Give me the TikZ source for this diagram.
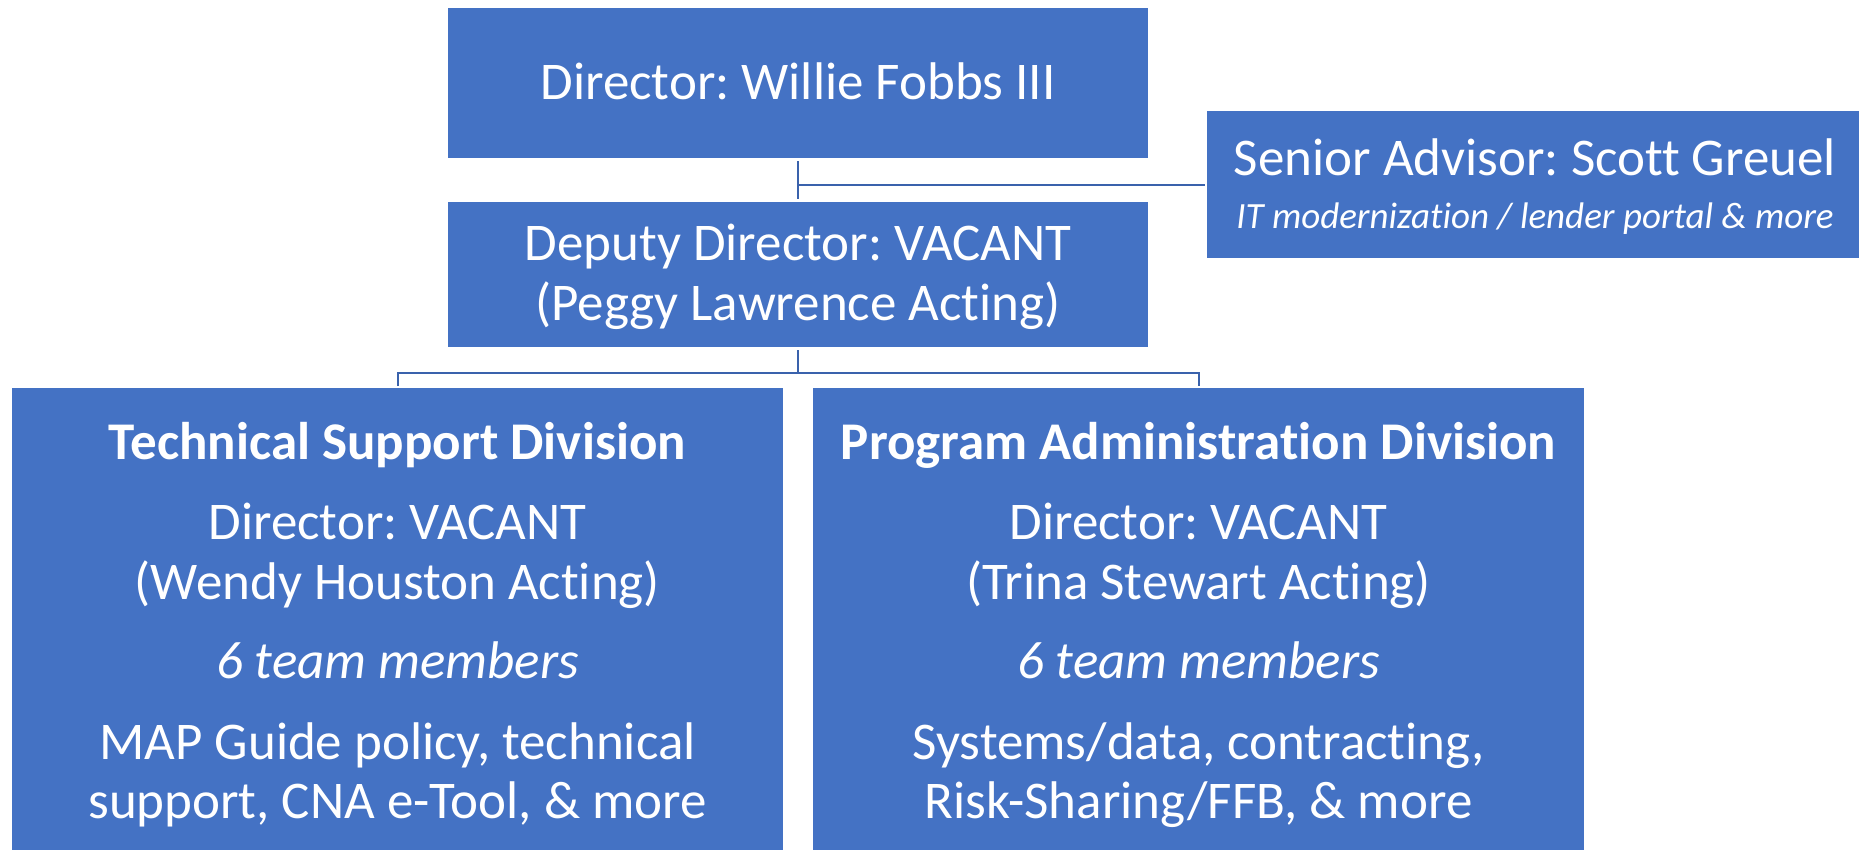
\documentclass[tikz,border=0pt]{standalone}
\usepackage{fontspec}
\setmainfont{Carlito}[Ligatures={NoCommon}]
\frenchspacing
\definecolor{boxblue}{HTML}{4472C4}
\definecolor{linkblue}{HTML}{3A62AC}
\begin{document}
\begin{tikzpicture}[x=1pt,y=-1pt,
  orgbox/.style={fill=boxblue, draw=none, inner sep=0pt, outer sep=0pt, anchor=north west},
  txt/.style={text=white, anchor=base, inner sep=0pt},
  big/.style={font=\fontsize{53}{60}\selectfont},
  bigbold/.style={font=\fontsize{53}{60}\selectfont\bfseries},
  bigit/.style={font=\fontsize{53}{60}\selectfont\itshape},
  small/.style={font=\fontsize{37}{42}\selectfont\itshape},
  link/.style={draw=linkblue, line width=2pt}]
\useasboundingbox (0,0) rectangle (1859,849);
% boxes
\node[orgbox, minimum width=700pt, minimum height=150pt] (dir) at (448,8) {};
\node[orgbox, minimum width=700pt, minimum height=145pt] (dep) at (448,202) {};
\node[orgbox, minimum width=660pt, minimum height=147pt] (sen) at (1207,111) {};
\node[orgbox, minimum width=771pt, minimum height=470pt] (tech) at (12,388) {};
\node[orgbox, minimum width=771pt, minimum height=470pt] (prog) at (813,388) {};
% texts
\node[txt, big] (dirT) at (798,99) {Director: Willie Fobbs III};
\node[txt, big] (depT1) at (798,260) {Deputy Director: VACANT};
\node[txt, big] (depT2) at (798,320) {(Peggy Lawrence Acting)};
\node[txt, big] (senT1) at (1535,175) {Senior Advisor: Scott Greuel};
\node[txt, small] (senT2) at (1535,228) {IT modernization / lender portal \& more};
\node[txt, bigbold] (techT1) at (397.5,459) {Technical Support Division};
\node[txt, big] (techT2) at (397.5,539) {Director: VACANT};
\node[txt, big] (techT3) at (397.5,599) {(Wendy Houston Acting)};
\node[txt, bigit] (techT4) at (397.5,678) {6 team members};
\node[txt, big] (techT5) at (397.5,759) {MAP Guide policy, technical};
\node[txt, big] (techT6) at (397.5,818) {support, CNA e-Tool, \& more};
\node[txt, bigbold] (progT1) at (1198.5,459) {Program Administration Division};
\node[txt, big] (progT2) at (1198.5,539) {Director: VACANT};
\node[txt, big] (progT3) at (1198.5,599) {(Trina Stewart Acting)};
\node[txt, bigit] (progT4) at (1198.5,678) {6 team members};
\node[txt, big] (progT5) at (1198.5,759) {Systems/data, contracting,};
\node[txt, big] (progT6) at (1198.5,818) {Risk-Sharing/FFB, \& more};
% connectors
\coordinate (bus) at (798,373);
\draw[link, shorten <=3pt, shorten >=3pt] (dir.south) -- (dep.north);
\draw[link] (dir.south |- sen.west) -- ([xshift=-2pt]sen.west);
\draw[link, shorten <=3pt] (dep.south) -- (bus);
\draw[link, shorten <=2pt, shorten >=2pt] (tech.north) |- (bus) -| (prog.north);
\end{tikzpicture}
\end{document}
